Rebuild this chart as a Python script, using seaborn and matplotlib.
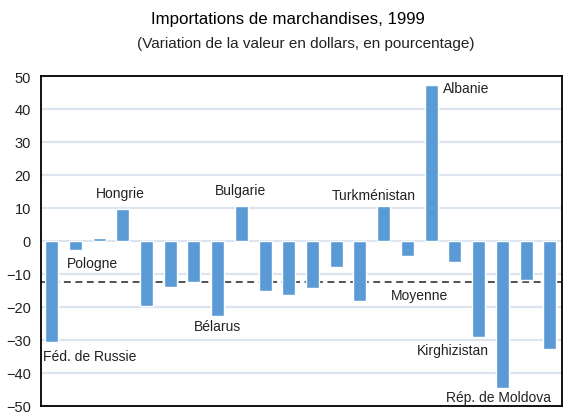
import pandas as pd
import matplotlib.pyplot as plt
import seaborn as sns

# variation of merchandise imports, 1999 (%)
values = [-30.5, -2.8, 1.0, 9.8, -19.6, -13.8, -12.3, -22.6, 10.5, -15.3, -16.5,
          -14.4, -8.0, -18.1, 10.5, -4.4, 47.3, -6.5, -29.0, -44.7, -11.7, -32.7]
average = -12.3
yticks = [-50, -40, -30, -20, -10, 0, 10, 20, 30, 40, 50]

# (text, x index, y value, alignment)
labels = [
    ("Féd. de Russie", -0.36, -35.0, "left"),
    ("Pologne", 0.65, -6.8, "left"),
    ("Hongrie", 2.9, 14.4, "center"),
    ("Bélarus", 6.98, -25.8, "center"),
    ("Bulgarie", 7.97, 15.3, "center"),
    ("Turkménistan", 13.6, 13.9, "center"),
    ("Albanie", 16.5, 46.5, "left"),
    ("Moyenne", 15.5, -16.3, "center"),
    ("Kirghizistan", 16.93, -33.0, "center"),
    ("Rép. de Moldova", 18.83, -47.2, "center"),
]

data = pd.DataFrame({"idx": range(len(values)), "value": values})

sns.set_style("white")
plt.rcParams["font.family"] = ["Liberation Sans", "DejaVu Sans"]

fig = plt.figure(figsize=(5.65, 4.14), dpi=100)
ax = fig.add_axes([0.072, 0.017, 0.922, 0.797])

for t in yticks:
    ax.axhline(t, color="#dbe4ef", linewidth=1.6, zorder=0)
ax.axhline(average, color="#222222", linewidth=1.1, linestyle=(0, (4.5, 3)), zorder=1)

sns.barplot(data=data, x="idx", y="value", color="#5b9bd5", saturation=1,
            width=0.55, ax=ax, zorder=2)

for text, x, y, ha in labels:
    ax.text(x, y, text, ha=ha, va="center", fontsize=10, color="#222222")

ax.set_xlim(-0.46, 21.5)
ax.set_ylim(-50, 50)
ax.set_yticks(yticks)
ax.set_xticks([])
ax.set_xlabel("")
ax.set_ylabel("")
ax.tick_params(axis="y", length=0, pad=7, labelsize=10.5, labelcolor="#222222")
for s in ax.spines.values():
    s.set_visible(True)
    s.set_color("black")
    s.set_linewidth(1.3)

fig.text(0.51, 0.952, "Importations de marchandises, 1999", ha="center", va="center",
         fontsize=12.2, color="black")
fig.text(0.542, 0.893, "(Variation de la valeur en dollars, en pourcentage)",
         ha="center", va="center", fontsize=11, color="#222222")

fig.savefig("out.png", dpi=100)
